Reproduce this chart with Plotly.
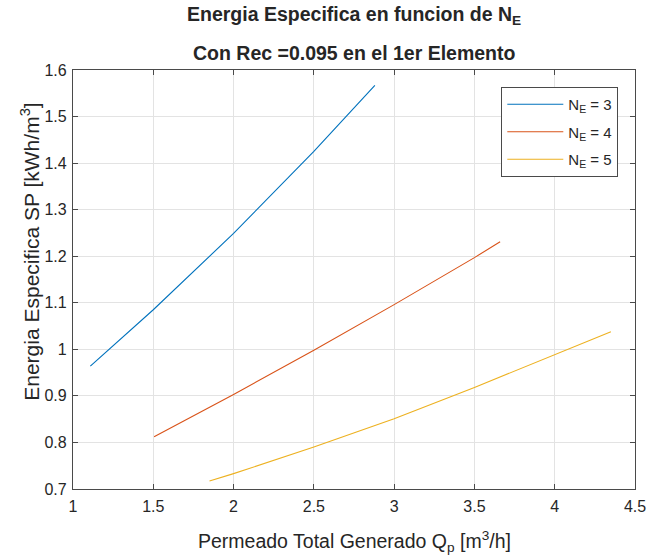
import plotly.graph_objects as go

# Data
qp_n3 = [1.108, 1.5, 2.0, 2.5, 2.88]
es_n3 = [0.964, 1.085, 1.249, 1.425, 1.567]

qp_n4 = [1.505, 2.0, 2.5, 3.0, 3.5, 3.66]
es_n4 = [0.812, 0.903, 0.998, 1.096, 1.197, 1.231]

qp_n5 = [1.85, 2.0, 2.5, 3.0, 3.5, 4.0, 4.35]
es_n5 = [0.717, 0.733, 0.790, 0.851, 0.918, 0.988, 1.038]

series_names = ["N<sub>E</sub> = 3", "N<sub>E</sub> = 4", "N<sub>E</sub> = 5"]
colors = ["#0072BD", "#D95319", "#EDB120"]

x_ticks = [1, 1.5, 2, 2.5, 3, 3.5, 4, 4.5]
y_ticks = [0.7, 0.8, 0.9, 1.0, 1.1, 1.2, 1.3, 1.4, 1.5, 1.6]

title_lines = ["Energia Especifica en funcion de N<sub>E</sub>",
               "Con Rec =0.095 en el 1er Elemento"]
x_label = "Permeado Total Generado Q<sub>p</sub> [m<sup>3</sup>/h]"
y_label = "Energia Especifica SP [kWh/m<sup>3</sup>]"

FONT = "Liberation Sans, Arial, sans-serif"
TXT = "#262626"
AX = "#4a4a4a"
GRID = "#e3e3e3"

W, H = 658, 556
L, R, T, B = 73, 13, 70, 67
PW, PH = W - L - R, H - T - B

fig = go.Figure()
for i, (xs, ys, name, c) in enumerate(zip([qp_n3, qp_n4, qp_n5], [es_n3, es_n4, es_n5], series_names, colors)):
    fig.add_trace(go.Scatter(x=xs, y=ys, mode="lines", name=name, legendgroup=f"g{i}",
                             line=dict(color=c, width=1.1)))

axis_common = dict(
    showline=True, linecolor=AX, linewidth=1.3, mirror="ticks",
    ticks="inside", ticklen=5, tickcolor=AX, tickwidth=1,
    showgrid=True, gridcolor=GRID, gridwidth=1, zeroline=False,
    tickfont=dict(family=FONT, size=16, color=TXT),
)

fig.update_layout(
    width=W, height=H,
    margin=dict(l=L, r=R, t=T, b=B),
    paper_bgcolor="white", plot_bgcolor="white",
    font=dict(family=FONT, color=TXT),
    xaxis=dict(range=[1, 4.5], tickvals=x_ticks, ticktext=[f"{v:g}" for v in x_ticks],
               ticklabelstandoff=3, **axis_common),
    yaxis=dict(range=[0.7, 1.6], tickvals=y_ticks, ticktext=[f"{v:g}" for v in y_ticks],
               ticklabelstandoff=2, **axis_common),
    legend=dict(x=(628 - L) / PW, y=(H - B - 87) / PH, xanchor="right", yanchor="top",
                bgcolor="white", bordercolor=AX, borderwidth=1, tracegroupgap=5,
                itemwidth=56,
                font=dict(family=FONT, size=15, color=TXT)),
    showlegend=True,
)

# Title lines (two centered bold lines above the axes)
for txt, ypx in zip(title_lines, [16, 53]):
    fig.add_annotation(text=f"<b>{txt}</b>", xref="paper", yref="paper",
                       x=0.5, y=(H - B - ypx) / PH, xanchor="center", yanchor="middle",
                       showarrow=False, font=dict(family=FONT, size=19.5, color=TXT))

# Axis labels
fig.add_annotation(text=x_label, xref="paper", yref="paper", x=0.5, y=(H - B - 541) / PH,
                   xanchor="center", yanchor="middle", showarrow=False,
                   font=dict(family=FONT, size=19.5, color=TXT))
fig.add_annotation(text=y_label, xref="paper", yref="paper", x=(29 - L) / PW,
                   y=(H - B - 252) / PH, xanchor="center", yanchor="middle",
                   textangle=-90, showarrow=False,
                   font=dict(family=FONT, size=21, color=TXT))

fig.write_html("out.html")
